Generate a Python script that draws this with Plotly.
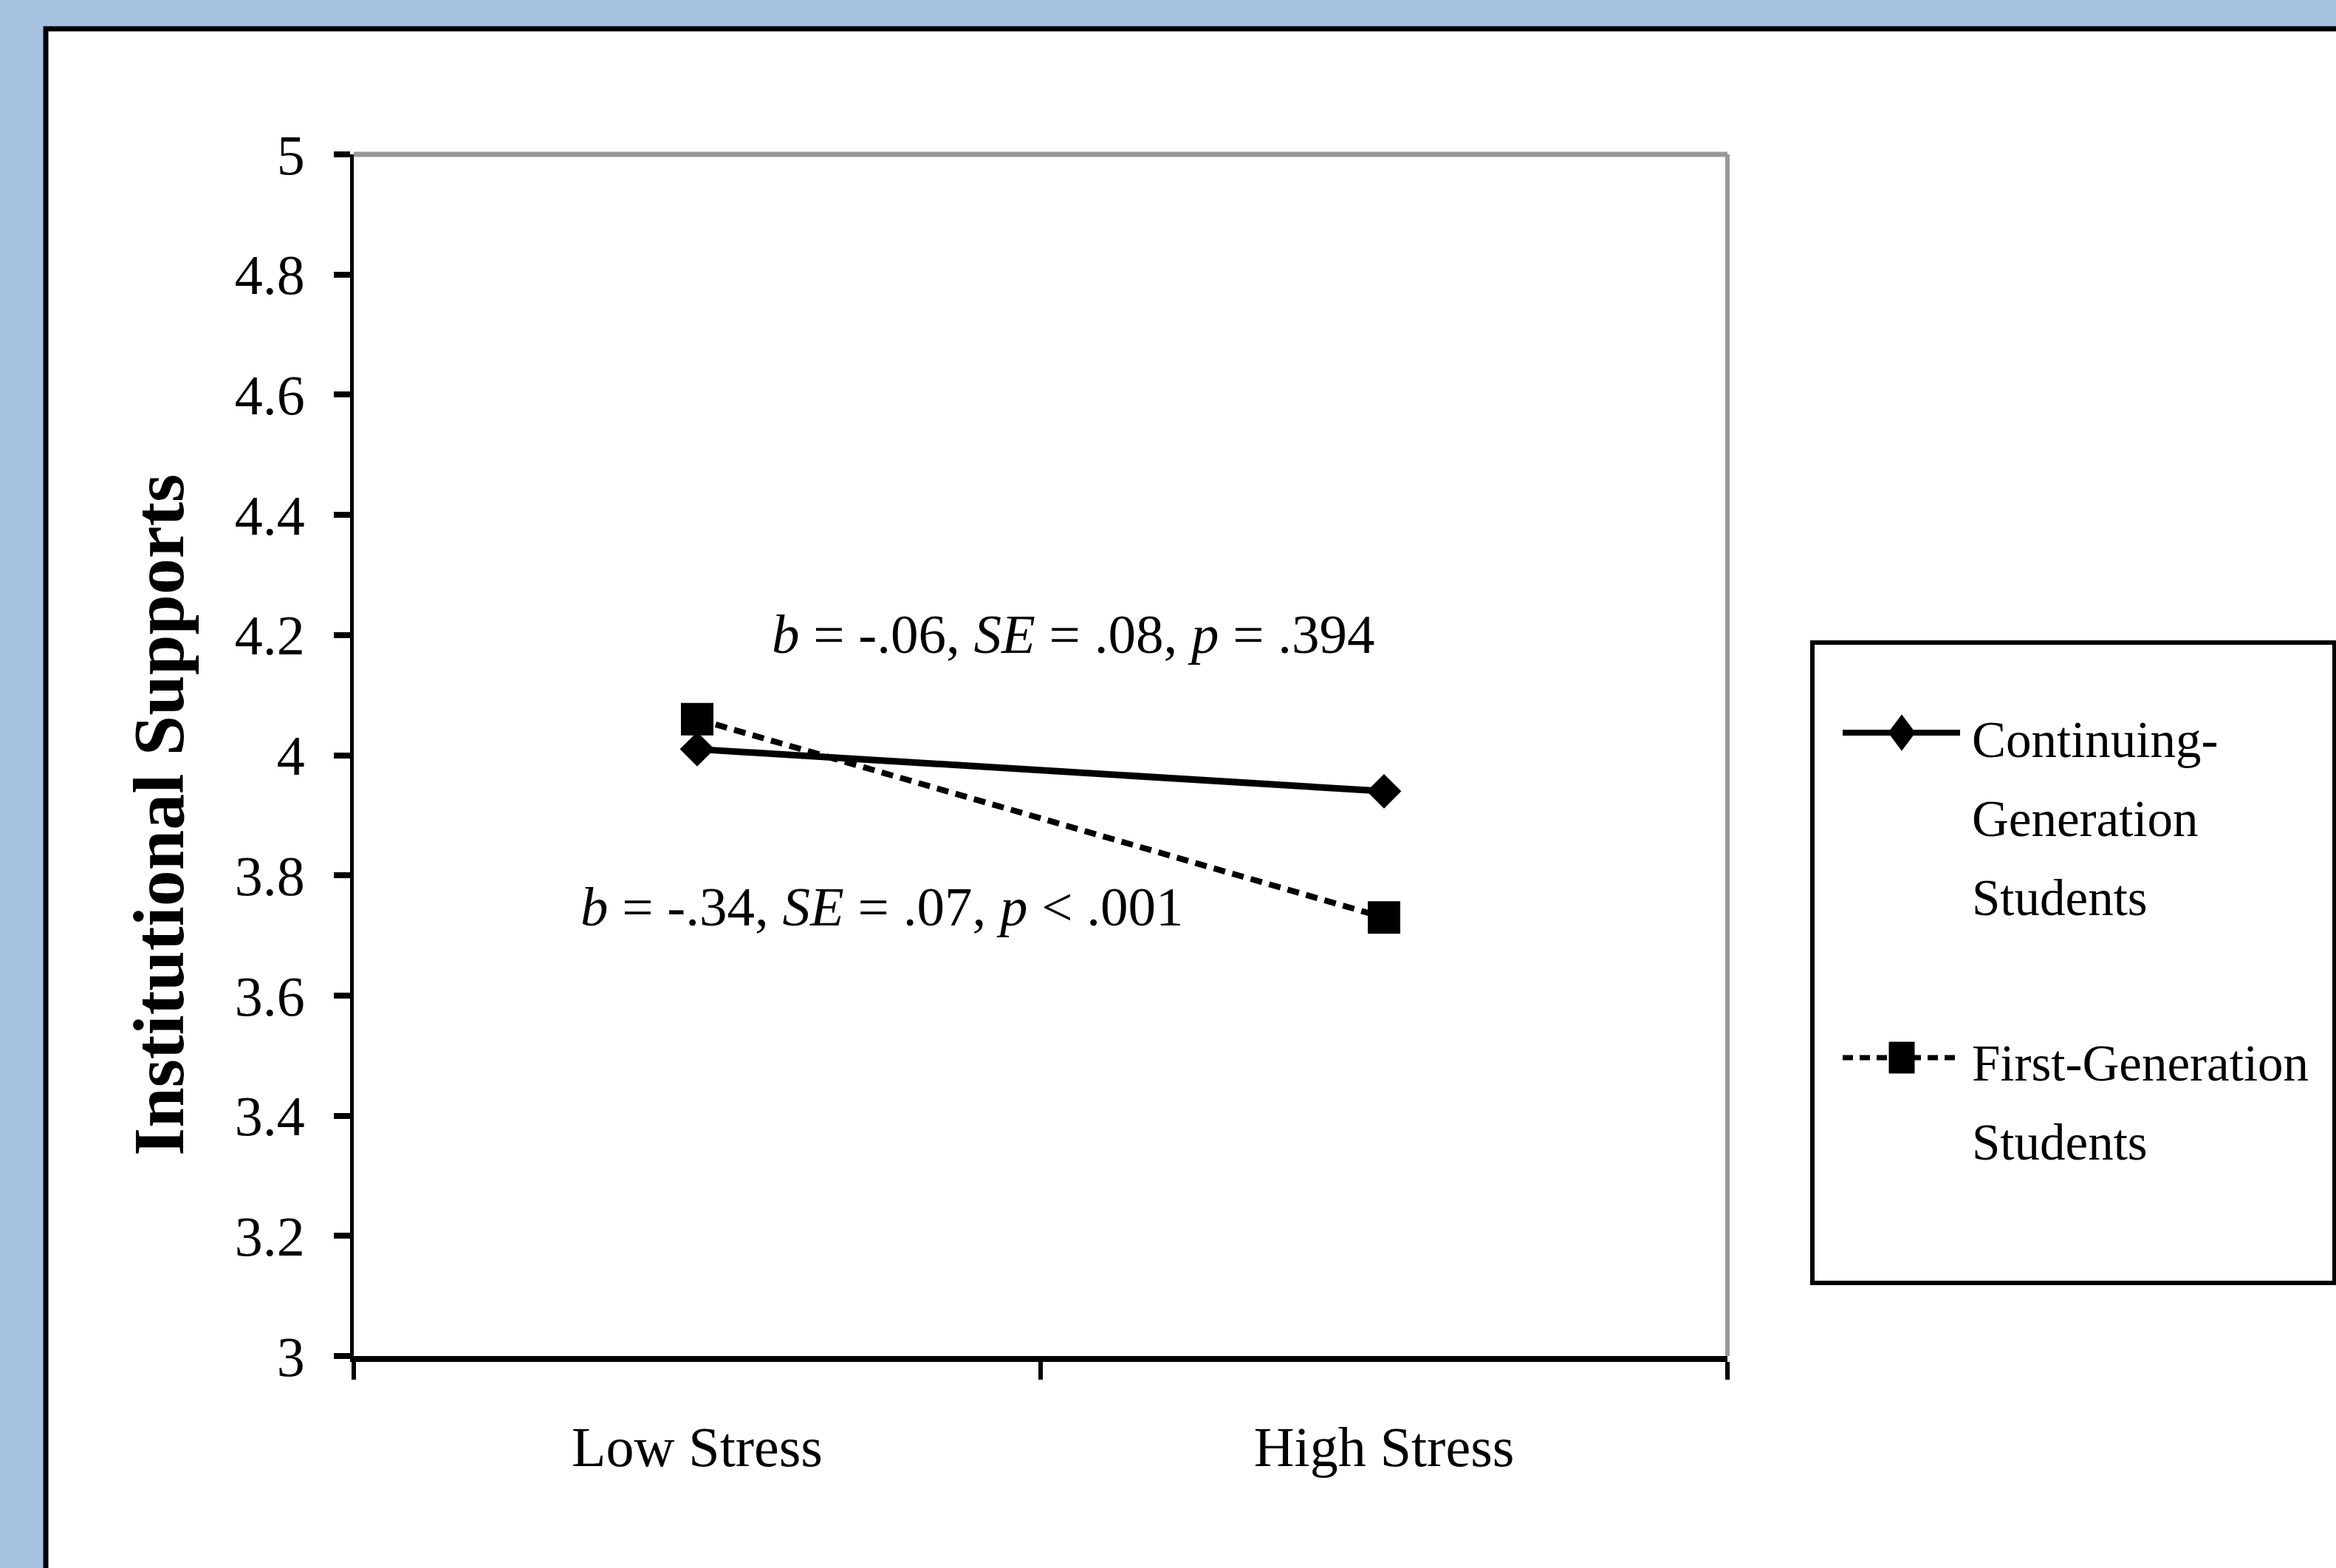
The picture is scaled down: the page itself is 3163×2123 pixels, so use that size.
import plotly.graph_objects as go

# ---------------- data ----------------
categories = ["Low Stress", "High Stress"]
continuing_gen = [4.01, 3.94]
first_gen = [4.06, 3.73]
series_names = ["Continuing-<br>Generation<br>Students", "First-Generation<br>Students"]
y_ticks = [3, 3.2, 3.4, 3.6, 3.8, 4, 4.2, 4.4, 4.6, 4.8, 5]
y_tick_text = ["3", "3.2", "3.4", "3.6", "3.8", "4", "4.2", "4.4", "4.6", "4.8", "5"]
y_title = "Institutional Supports"
note_continuing = "<i>b</i> = -.06, <i>SE</i> = .08, <i>p</i> = .394"
note_first = "<i>b</i> = -.34, <i>SE</i> = .07, <i>p</i> < .001"

# ---------------- layout geometry ----------------
W, H = 3163, 2123
L, R, T, B = 479, 2339, 209, 1836
PW, PH = R - L, B - T
FONT = "Liberation Serif, Times New Roman, serif"
BG = "#a7c2e0"


def px(x):
    return (x - L) / PW


def py(y):
    return (B - y) / PH


fig = go.Figure()

fig.add_trace(go.Scatter(
    x=categories, y=continuing_gen, mode="lines+markers",
    name="Continuing-Generation Students",
    line=dict(color="black", width=9),
    marker=dict(symbol="diamond", size=36, color="black"),
    showlegend=False,
))
fig.add_trace(go.Scatter(
    x=categories, y=first_gen, mode="lines+markers",
    name="First-Generation Students",
    line=dict(color="black", width=8, dash="16px,10px"),
    marker=dict(symbol="square", size=44, color="black"),
    showlegend=False,
))

shapes = []
# white panel with black border
shapes.append(dict(type="rect", xref="paper", yref="paper",
                   x0=px(62), x1=px(3400), y0=py(39), y1=py(2400),
                   line=dict(color="black", width=7), fillcolor="white", layer="below"))
# grey top / right frame of plot area
shapes.append(dict(type="line", xref="paper", yref="paper", x0=0, x1=1, y0=1, y1=1,
                   line=dict(color="#999999", width=7)))
shapes.append(dict(type="line", xref="paper", yref="paper", x0=1, x1=1, y0=0, y1=1,
                   line=dict(color="#999999", width=6)))
# legend box
shapes.append(dict(type="rect", xref="paper", yref="paper",
                   x0=px(2454), x1=px(3161), y0=py(870), y1=py(1737),
                   line=dict(color="black", width=6), fillcolor="white"))
# legend entry 1: solid line + diamond
LX0, LX1, LXC = 2495, 2654, 2575
Y1, Y2 = 992, 1432
shapes.append(dict(type="line", xref="paper", yref="paper",
                   x0=px(LX0), x1=px(LX1), y0=py(Y1), y1=py(Y1),
                   line=dict(color="black", width=8)))
hw, hh = 18, 24
shapes.append(dict(type="path", xref="paper", yref="paper",
                   path=f"M{px(LXC)},{py(Y1-hh)} L{px(LXC+hw)},{py(Y1)} L{px(LXC)},{py(Y1+hh)} L{px(LXC-hw)},{py(Y1)} Z",
                   line=dict(color="black", width=1), fillcolor="black"))
# legend entry 2: dashed line + square
shapes.append(dict(type="line", xref="paper", yref="paper",
                   x0=px(LX0), x1=px(LX1), y0=py(Y2), y1=py(Y2),
                   line=dict(color="black", width=7, dash="14px,9px")))
shapes.append(dict(type="rect", xref="paper", yref="paper",
                   x0=px(LXC - 17), x1=px(LXC + 17), y0=py(Y2 - 21), y1=py(Y2 + 21),
                   line=dict(color="black", width=1), fillcolor="black"))

annotations = [
    dict(text=note_continuing, x=0.547, y=4.202, xref="x", yref="y",
         showarrow=False, xanchor="center", yanchor="middle",
         font=dict(family=FONT, size=75, color="black")),
    dict(text=note_first, x=0.269, y=3.748, xref="x", yref="y",
         showarrow=False, xanchor="center", yanchor="middle",
         font=dict(family=FONT, size=75, color="black")),
    dict(text=f"<b>{y_title}</b>", x=px(215), y=py(1104), xref="paper", yref="paper",
         showarrow=False, xanchor="center", yanchor="middle", textangle=-90,
         font=dict(family=FONT, size=98, color="black")),
]
# legend labels, one line per annotation (line spacing 107 px)
LINE_GAP = 107
for name, y_first in zip(series_names, [1002, 1440]):
    for i, part in enumerate(name.split("<br>")):
        annotations.append(dict(
            text=part, x=px(2668), y=py(y_first + i * LINE_GAP), xref="paper", yref="paper",
            showarrow=False, xanchor="left", yanchor="middle", align="left",
            font=dict(family=FONT, size=69, color="black")))

fig.update_layout(
    width=W, height=H,
    margin=dict(l=L, r=W - R, t=T, b=H - B, autoexpand=False),
    paper_bgcolor=BG, plot_bgcolor="white",
    shapes=shapes, annotations=annotations,
    showlegend=False,
    font=dict(family=FONT, color="black"),
)
fig.update_xaxes(
    type="category", range=[-0.5, 1.5], tickson="boundaries",
    showline=True, linecolor="black", linewidth=8,
    ticks="outside", ticklen=24, tickwidth=6, tickcolor="black",
    showgrid=False, zeroline=False,
    tickfont=dict(family=FONT, size=76, color="black"),
    ticklabelstandoff=50,
)
fig.update_yaxes(
    range=[3, 5], tickvals=y_ticks, ticktext=y_tick_text,
    showline=True, linecolor="black", linewidth=5,
    ticks="outside", ticklen=22, tickwidth=8, tickcolor="black",
    showgrid=False, zeroline=False,
    tickfont=dict(family=FONT, size=76, color="black"),
    ticklabelstandoff=24,
)

fig.write_html("out.html", config={"displayModeBar": False},
               post_script="document.body.style.margin='0';document.body.style.overflow='hidden';")
